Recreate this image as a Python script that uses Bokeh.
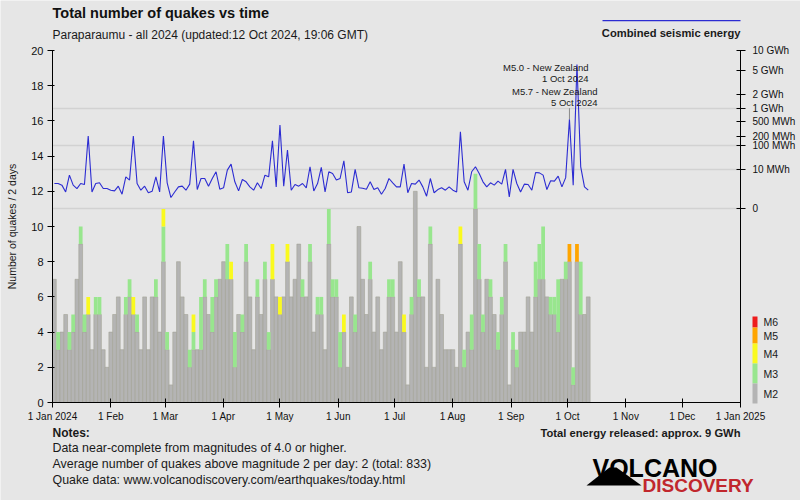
import numpy as np
import pandas as pd
from bokeh.plotting import figure
from bokeh.models import Range1d, LinearAxis, FixedTicker, Label, Grid, PolyAnnotation, ColumnDataSource
from bokeh.embed import file_html
from bokeh.resources import INLINE

# ---------------- data ----------------
start_date = "2024-01-01"
bin_days = 2
# counts per 2-day bin, by magnitude class
m2 = [7,3,4,5,3,4,7,9,4,5, 3,5,5,3,2,4,5,6,3,5, 6,5,4,3,6,3,6,6,4,8,
      3,1,4,8,6,5,2,3,3,3, 6,5,4,6,7,8,7,7,2,5, 4,8,6,3,6,5,7,3,7,6,
      5,6,8,6,7,9,6,6,8,4, 5,5,3,9,6,6,2,4,2,6, 4,10,7,5,7,4,6,3,4,6,
      6,4,8,4,1,5,12,6,6,2, 9,2,7,5,3,3,3,2,9,2, 4,3,11,7,4,7,6,5,3,5,
      8,1,3,2,4,4,6,4,6,7, 7,6,5,5,4,7,7,8,1,8, 5,5,6]
m3 = [0,1,0,0,1,1,0,1,1,0, 0,1,1,0,0,0,0,0,0,1, 1,0,1,0,0,0,0,1,0,2,
      1,0,0,0,0,0,1,1,0,3, 1,0,2,1,0,0,2,0,2,0, 1,1,0,0,1,0,1,1,0,0,
      0,0,0,0,0,0,1,0,1,0, 1,1,0,2,1,1,2,0,0,0, 1,0,0,0,1,0,0,0,0,1,
      1,0,0,0,0,1,0,1,0,0, 1,0,0,0,0,0,0,0,0,1, 0,2,2,2,1,0,1,0,1,1,
      1,0,1,1,0,0,0,0,2,2, 3,0,1,1,3,0,1,0,1,0, 3,0,0]
m4 = [0,0,0,0,0,0,0,0,0,1, 0,0,0,0,0,0,0,0,0,0, 0,1,0,0,0,0,0,0,0,1,
      0,0,0,0,0,0,0,1,0,0, 0,0,0,0,0,0,0,1,0,0, 0,0,0,0,0,0,0,0,2,0,
      1,0,1,0,0,0,0,0,0,0, 0,0,0,0,0,0,0,1,0,0, 0,0,0,0,0,0,0,0,0,0,
      0,0,0,1,0,0,0,0,0,0, 0,0,0,0,0,0,0,0,1,0, 0,0,0,0,0,0,0,0,0,0,
      0,0,0,0,0,0,0,0,0,0, 0,0,0,0,0,0,0,0,0,0, 0,0,0]
m5 = [0]*137 + [1,0,1,0,0,0]
m6 = [0]*143
# combined seismic energy per bin, MWh
energy_mwh = [1.06,1.06,0.76,0.14,4.4,0.76,0.35,1.06,0.87,206,
              0.14,1.06,1.21,0.35,0.35,0.23,0.19,0.61,0.069,3.4,
              2.0,206,1.06,0.23,0.61,0.11,0.17,3.4,0.14,206,
              1.21,0.019,0.14,0.52,0.61,0.23,0.93,148,0.27,2.6,
              2.6,0.61,2.6,7.1,0.30,0.42,8.8,18.1,1.46,0.19,
              2.2,1.46,0.52,0.23,1.21,0.35,4.4,3.4,148,0.52,
              417,0.61,70.7,0.23,0.87,0.61,1.06,0.42,13.3,0.19,
              1.06,12.3,0.14,7.1,5.6,2.0,2.6,25.9,0.11,0.14,
              9.6,0.42,0.38,0.30,1.46,0.27,0.42,0.069,0.35,2.6,
              1.21,0.52,0.52,18.1,0.11,1.06,0.93,2.0,0.52,0.033,
              2.6,0.11,0.27,0.42,0.23,0.52,0.23,0.14,275,1.46,
              0.23,7.1,13.3,5.6,1.46,0.52,1.21,0.76,1.65,0.93,
              9.6,0.025,9.6,1.06,0.14,0.93,0.87,0.23,6.4,6.1,
              4.4,0.27,1.75,1.65,3.8,0.52,3.0,580,0.76,6300,
              13.3,0.52,0.23]

month_starts = ["2024-01-01","2024-02-01","2024-03-01","2024-04-01","2024-05-01","2024-06-01",
                "2024-07-01","2024-08-01","2024-09-01","2024-10-01","2024-11-01","2024-12-01","2025-01-01"]
month_labels = ["1 Jan 2024","1 Feb","1 Mar","1 Apr","1 May","1 Jun","1 Jul","1 Aug",
                "1 Sep","1 Oct","1 Nov","1 Dec","1 Jan 2025"]
count_ticks = [0,2,4,6,8,10,12,14,16,18,20]
energy_tick_mwh = [0,10,100,200,500,1000,2000,5000,10000]
energy_tick_labels = ["0","10 MWh","100 MWh","200 MWh","500 MWh","1 GWh","2 GWh","5 GWh","10 GWh"]
energy_grid_mwh = [0,10,100,1000]
mag_names = ["M2","M3","M4","M5","M6"]
mag_colors = ["#b4b4b4","#98e68e","#fafa1e","#ffa500","#ee1c1c"]

# ---------------- layout constants (pixels) ----------------
W, H = 800, 500
FL, FR, FT, FB = 52.0, 740.0, 50.0, 402.0   # plot area edges
CMAX = 20.0
FONT = "Liberation Sans"

t0 = pd.Timestamp(start_date)
def day(d):
    return (pd.Timestamp(d) - t0).days

D_END = day(month_starts[-1])
dpp = D_END / (FR - FL)          # days per pixel
cpp = CMAX / (FB - FT)           # counts per pixel
E_FULL = 10000.0
E_LOW = 11.0                      # count level where energy axis reads 0
e_per_c = E_FULL / (CMAX - E_LOW)

x_rng = Range1d(-FL * dpp, (W - FL) * dpp)
y_rng = Range1d(-(H - FB) * cpp, FB * cpp)
e_rng = Range1d((y_rng.start - E_LOW) * e_per_c, (y_rng.end - E_LOW) * e_per_c)

def escale(e):
    return E_FULL * (np.asarray(e, dtype=float) / E_FULL) ** 0.2

n = len(m2)
centers = np.arange(n) * bin_days + bin_days / 2
source = ColumnDataSource(dict(x=centers, M2=m2, M3=m3, M4=m4, M5=m5, M6=m6))

p = figure(width=W, height=H, output_backend="svg", toolbar_location=None, title=None,
           x_range=x_rng, y_range=y_rng,
           min_border_left=0, min_border_right=0, min_border_top=0, min_border_bottom=0,
           background_fill_color="#e6e6e6", border_fill_color="#e6e6e6", outline_line_color=None)
p.extra_y_ranges = {"energy": e_rng}
p.xgrid.visible = False
p.ygrid.visible = False

egrid = Grid(dimension=1, y_range_name="energy",
             ticker=FixedTicker(ticks=[float(escale(v)) for v in energy_grid_mwh]),
             cross_bounds=(0, D_END), grid_line_color="#d2d2d2", grid_line_width=1.5)
p.add_layout(egrid)

p.vbar_stack(mag_names, x="x", width=bin_days, source=source, color=mag_colors,
             line_color=["#a3a396", None, None, None, None], line_width=0.6)

es = escale(energy_mwh)
p.line(centers, es, y_range_name="energy", line_color="#2c2cd2", line_width=1.1)

# leader line for the 1 Oct event
pk = int(np.argsort(energy_mwh)[-2])
p.segment(x0=[centers[pk]], y0=[es[pk]], x1=[centers[pk]], y1=[es[pk] + 700],
          y_range_name="energy", line_color="#8a8a8a", line_width=1)

# axes (fixed inside the full-canvas frame)
xa = p.xaxis[0]
xa.fixed_location = 0
xa.bounds = (0, D_END)
xa.ticker = FixedTicker(ticks=[day(d) for d in month_starts])
xa.major_label_overrides = {day(d): l for d, l in zip(month_starts, month_labels)}
ya = p.yaxis[0]
ya.fixed_location = 0
ya.bounds = (0, CMAX)
ya.ticker = FixedTicker(ticks=count_ticks)
ya.axis_label = "Number of quakes / 2 days"
ya.axis_label_text_font_style = "normal"
ya.axis_label_text_font_size = "10.5px"
ya.axis_label_text_font = FONT
ya.axis_label_text_color = "#1a1a1a"
ya.axis_label_standoff = 10
ra = LinearAxis(y_range_name="energy", fixed_location=D_END,
                bounds=(-E_LOW * e_per_c, E_FULL))
etk = [int(round(float(escale(v)))) for v in energy_tick_mwh]
ra.ticker = FixedTicker(ticks=etk)
ra.major_label_overrides = {k: l for k, l in zip(etk, energy_tick_labels)}
p.add_layout(ra, "right")
for ax in (xa, ya, ra):
    ax.minor_tick_line_color = None
    ax.major_tick_in = 4
    ax.major_tick_out = 5
    ax.axis_line_color = "black"
    ax.major_tick_line_color = "black"
    ax.major_label_text_font = FONT
    ax.major_label_text_font_size = "10px"
    ax.major_label_text_color = "#111111"
ya.major_label_text_font_size = "11px"
ya.major_tick_in = 2
xa.major_label_standoff = 3
ya.major_label_standoff = 4
ra.major_label_standoff = 7

def S(X, Y):
    return X, H - Y

def lab(X, Y, text, size="12px", bold=False, align="left", color="#1a1a1a", baseline="middle"):
    sx, sy = S(X, Y)
    p.add_layout(Label(x=sx, y=sy, x_units="screen", y_units="screen", text=text,
                       text_font=FONT, text_font_size=size, text_align=align,
                       text_baseline=baseline, text_color=color,
                       text_font_style="bold" if bold else "normal"))

def poly(pts, color):
    xs = [S(a, b)[0] for a, b in pts]
    ys = [S(a, b)[1] for a, b in pts]
    p.add_layout(PolyAnnotation(xs=xs, ys=ys, xs_units="screen", ys_units="screen",
                                fill_color=color, fill_alpha=1, line_color=None))

lab(52, 12, "Total number of quakes vs time", size="14.5px", bold=True, color="#111111")
lab(52, 34, "Paraparaumu - all 2024 (updated:12 Oct 2024, 19:06 GMT)", size="12px")
poly([(602, 19.5), (740, 19.5), (740, 20.8), (602, 20.8)], "#2c2cd2")
lab(740, 32, "Combined seismic energy", size="11.2px", bold=True, align="right")

lab(588, 67, "M5.0 - New Zealand", size="9.5px", align="right")
lab(588, 78, "1 Oct 2024", size="9.5px", align="right")
lab(597, 91, "M5.7 - New Zealand", size="9.5px", align="right")
lab(597, 102, "5 Oct 2024", size="9.5px", align="right")

# magnitude legend
legend_boxes = [(316, 327), (327, 343), (343, 363), (363, 383), (383, 403)]
legend_order = [4, 3, 2, 1, 0]
for (t, b), k in zip(legend_boxes, legend_order):
    poly([(752, t), (757, t), (757, b), (752, b)], mag_colors[k])
    lab(763, (t + b) / 2, mag_names[k], size="10.5px")

# notes
lab(52, 432, "Notes:", size="12px", bold=True)
lab(52, 447, "Data near-complete from magnitudes of 4.0 or higher.", size="12.4px")
lab(52, 463, "Average number of quakes above magnitude 2 per day: 2 (total: 833)", size="12.4px")
lab(52, 479, "Quake data: www.volcanodiscovery.com/earthquakes/today.html", size="12.4px")
lab(740, 432, "Total energy released: approx. 9 GWh", size="11.2px", bold=True, align="right")

# logo
poly([(586, 485), (609, 467), (616, 467), (641, 485)], "#000000")
lab(592, 467, "VOLCANO", size="25px", bold=True, color="#000000", baseline="alphabetic")
lab(642, 485, "DISCOVERY", size="19px", bold=True, color="#c1272d", baseline="alphabetic")

open("out.html", "w").write(file_html(p, INLINE))
